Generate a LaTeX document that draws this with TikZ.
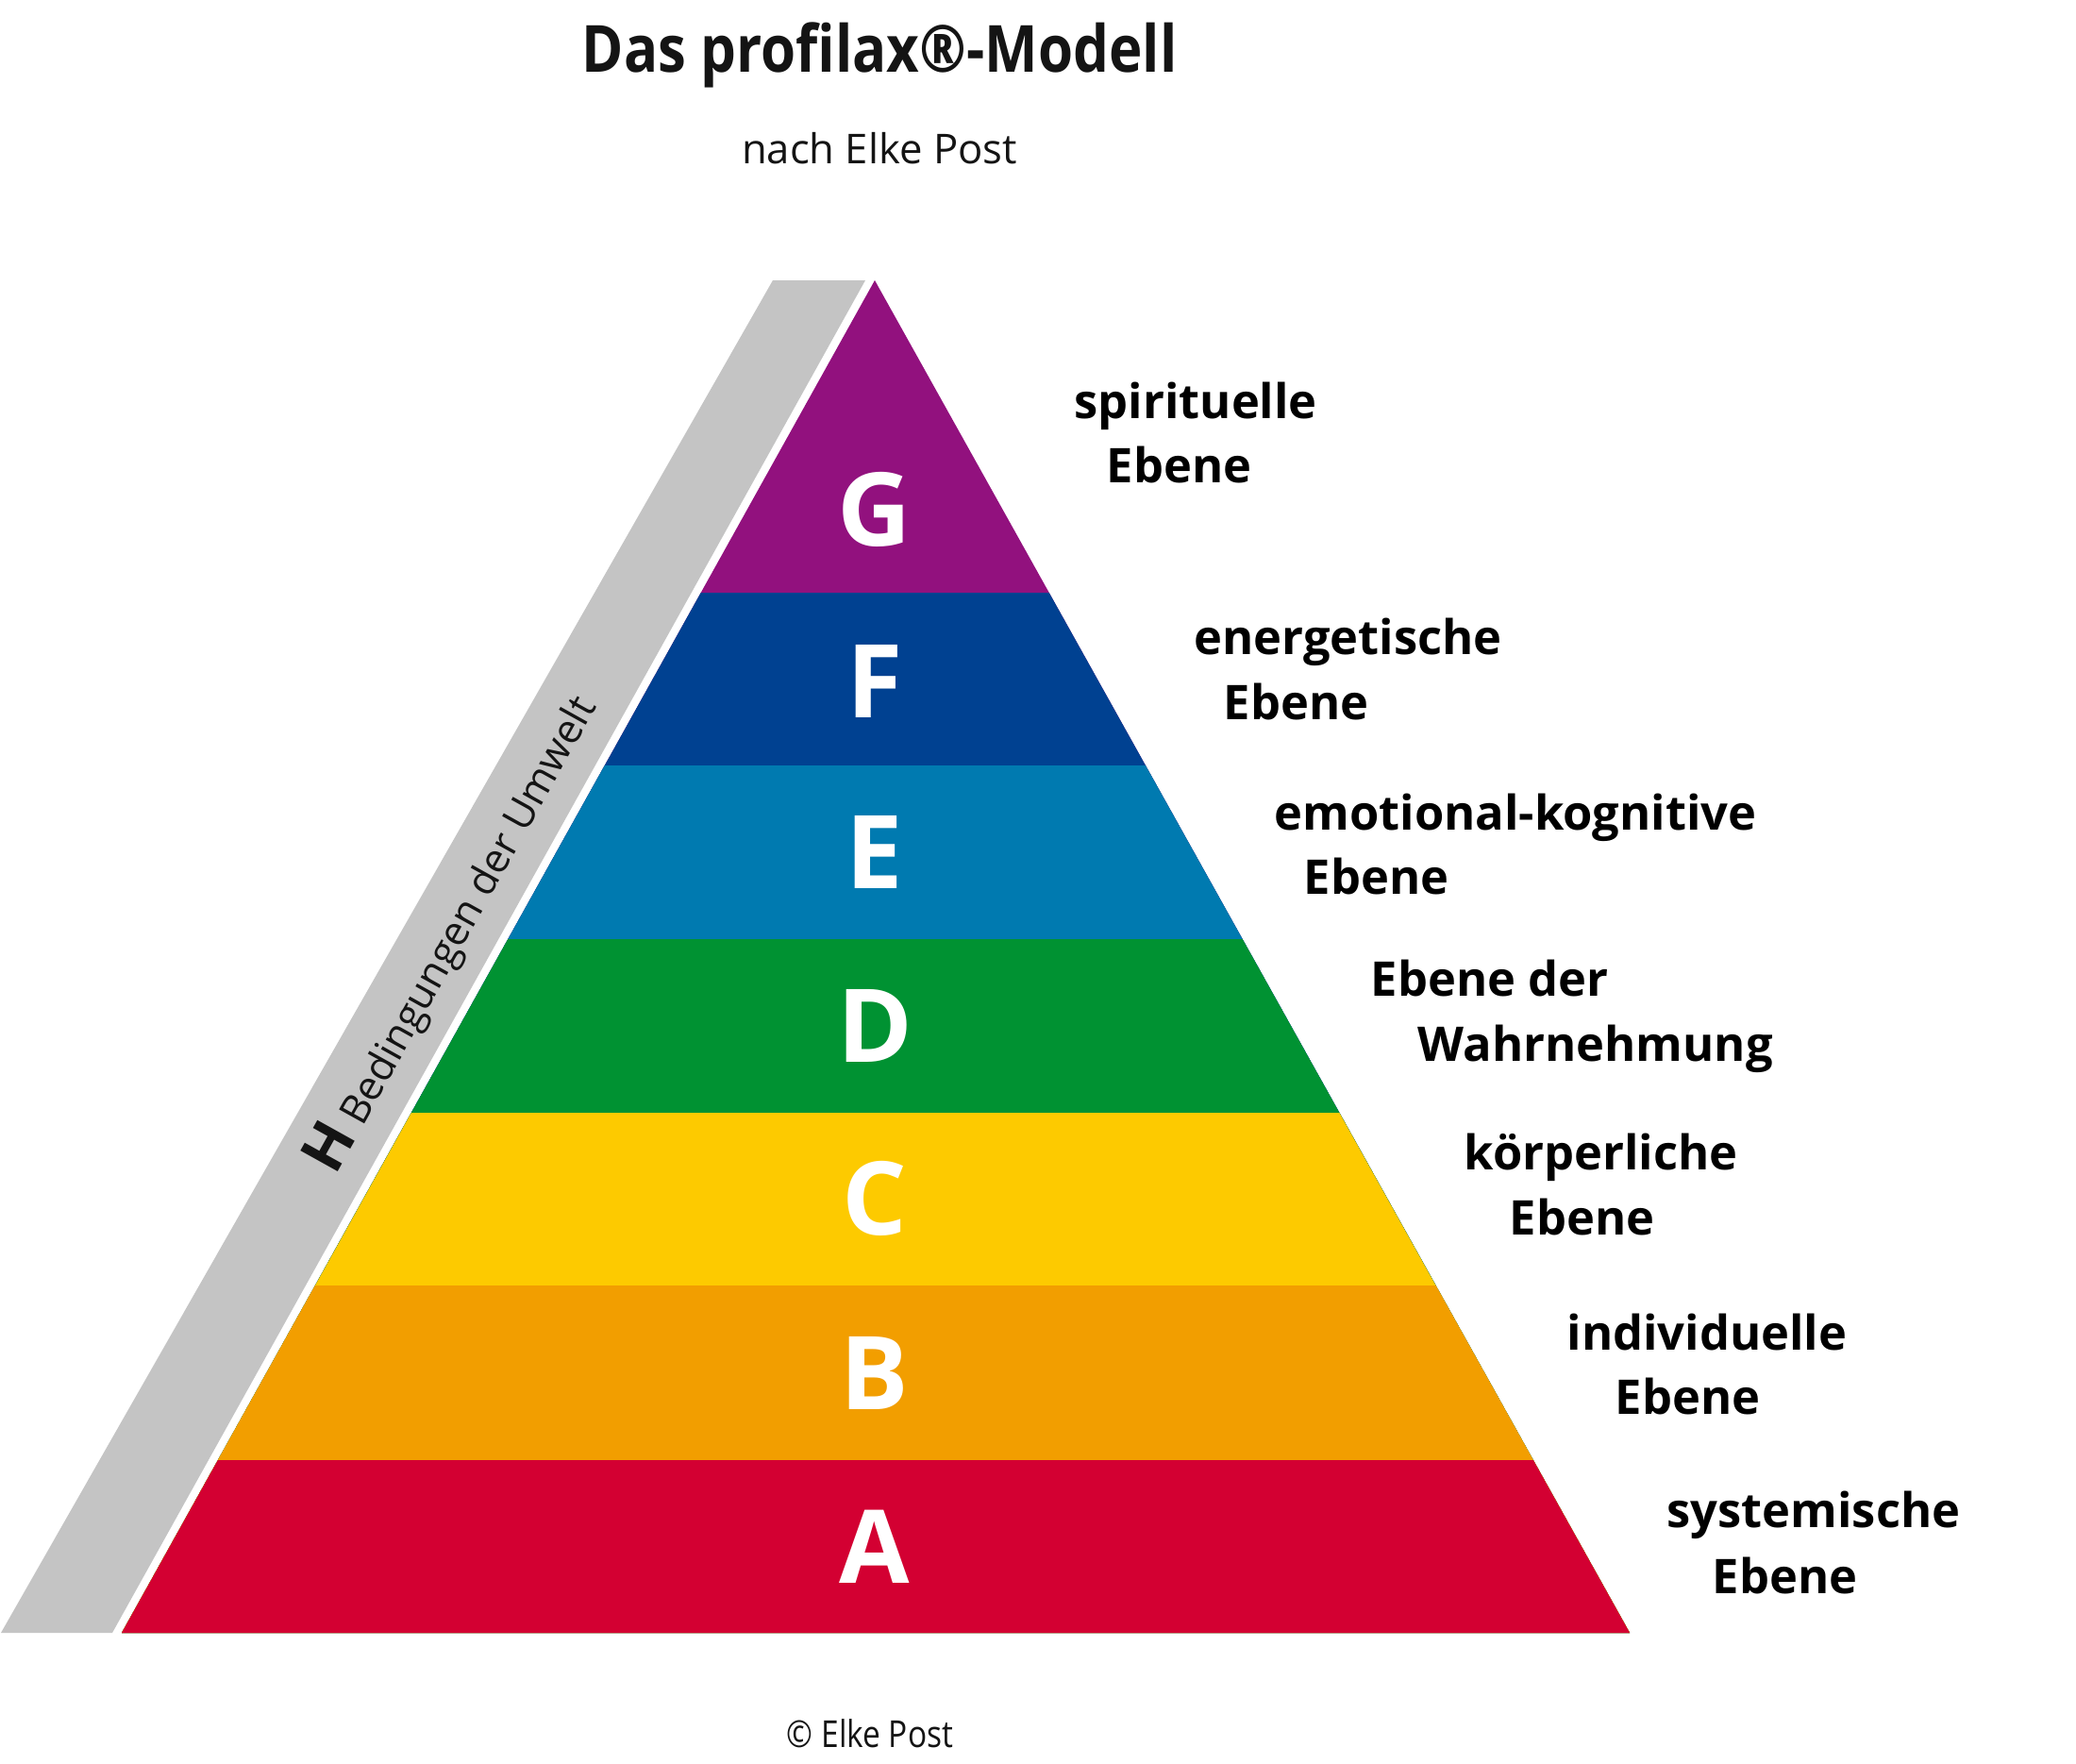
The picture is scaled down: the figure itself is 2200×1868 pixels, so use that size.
\documentclass[tikz,border=0pt]{standalone}
\usepackage{graphicx}
\usepackage{fontspec}
\setmainfont{Open Sans}
\definecolor{colG}{RGB}{146,17,126}
\definecolor{colF}{RGB}{0,65,145}
\definecolor{colE}{RGB}{0,122,176}
\definecolor{colD}{RGB}{0,146,50}
\definecolor{colC}{RGB}{253,202,0}
\definecolor{colB}{RGB}{242,158,0}
\definecolor{colA}{RGB}{211,0,50}
\definecolor{bandgrey}{RGB}{196,196,196}
\definecolor{txt}{RGB}{20,20,20}
\tikzset{
  letter/.style={anchor=base, inner sep=0pt, text=white, font=\fontsize{30.7pt}{31pt}\selectfont\bfseries},
  lab/.style={anchor=base west, inner sep=0pt, text=black, font=\fontsize{14.4pt}{17pt}\selectfont\bfseries},
  titlestyle/.style={anchor=base, inner sep=0pt, text=txt, font=\fontsize{19.6pt}{22pt}\selectfont\bfseries},
  subtitlestyle/.style={anchor=base, inner sep=0pt, text=txt, font=\fontsize{12.4pt}{15pt}\selectfont},
  copystyle/.style={anchor=base, inner sep=0pt, text=txt, font=\fontsize{11.2pt}{13pt}\selectfont},
}
\begin{document}
\begin{tikzpicture}[x=0.01cm,y=-0.01cm]
\useasboundingbox[fill=white] (0,0) rectangle (2200,1868);
% grey band
\fill[bandgrey] (819,297) -- (917,297) -- (119,1730) -- (1,1730) -- cycle;
% pyramid
\begin{scope}
\clip (927,297) -- (1727,1730) -- (129,1730) -- cycle;
\fill[colG] (0,290) rectangle (2200,1740);
\fill[colF] (0,628) rectangle (2200,1740);
\fill[colE] (0,811) rectangle (2200,1740);
\fill[colD] (0,995) rectangle (2200,1740);
\fill[colC] (0,1179) rectangle (2200,1740);
\fill[colB] (0,1362) rectangle (2200,1740);
\fill[colA] (0,1547) rectangle (2200,1740);
\end{scope}
% letters
\node[letter] (lG) at (927,578) {G};
\node[letter] (lF) at (927,760) {F};
\node[letter] (lE) at (927,941) {E};
\node[letter] (lD) at (927,1125) {D};
\node[letter] (lC) at (927,1308) {C};
\node[letter] (lB) at (927,1493) {B};
\node[letter] (lA) at (927,1677) {A};
% labels
\node[lab] (g1) at (1138,443) {spirituelle};
\node[lab] (g2) at (1172,511) {Ebene};
\node[lab] (f1) at (1265,693) {energetische};
\node[lab] (f2) at (1296,762) {Ebene};
\node[lab] (e1) at (1350,879) {emotional-kognitive};
\node[lab] (e2) at (1381,947) {Ebene};
\node[lab] (d1) at (1452,1055) {Ebene der};
\node[lab] (d2) at (1502,1124) {Wahrnehmung};
\node[lab] (c1) at (1551,1239) {körperliche};
\node[lab] (c2) at (1599,1308) {Ebene};
\node[lab] (b1) at (1660,1430) {individuelle};
\node[lab] (b2) at (1711,1498) {Ebene};
\node[lab] (a1) at (1766,1618) {systemische};
\node[lab] (a2) at (1814,1688) {Ebene};
% environment label
\node[rotate=60.9, anchor=base west, inner sep=0pt, text=txt] (env) at (355,1247)
  {{\fontsize{18pt}{18pt}\selectfont\bfseries H}\fontsize{12.2pt}{14pt}\selectfont\ Bedingungen der Umwelt};
% titles
\node[titlestyle] (title) at (932,76) {\scalebox{0.87}[1]{Das profilax®-Modell}};
\node[subtitlestyle] (subtitle) at (932,173) {nach Elke Post};
\node[copystyle] (copy) at (922,1851) {\scalebox{0.85}[1]{© Elke Post}};
\end{tikzpicture}
\end{document}
